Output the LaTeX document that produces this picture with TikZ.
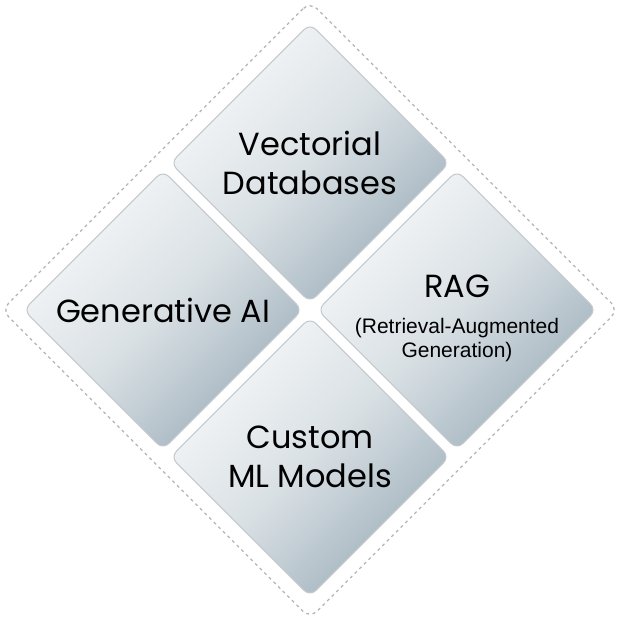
\documentclass[tikz,border=0pt]{standalone}
\usepackage{fontspec}
\newfontfamily\popfont{Poppins}
\newfontfamily\subfont{Liberation Sans}
\definecolor{tilelight}{HTML}{F6F8F9}
\definecolor{tilemid}{HTML}{D9E0E4}
\definecolor{tiledark}{HTML}{9FB0BC}
\definecolor{tileedge}{HTML}{C4C9CD}
\definecolor{frameedge}{HTML}{B4B4B4}

\begin{document}
\begin{tikzpicture}[
    x=1pt, y=1pt,
    tile/.style = {rectangle, rotate=45, rounded corners=8pt, draw=tileedge, line width=1pt,
                   top color=tilelight, bottom color=tiledark, middle color=tilemid, shading angle=45,
                   minimum size=197pt, inner sep=0pt, outer sep=0pt},
    frame/.style = {rectangle, rotate=45, rounded corners=10pt, draw=frameedge, line width=1.3pt,
                    dash pattern=on 3pt off 3.5pt, minimum size=436pt, inner sep=0pt},
    title/.style = {align=center, font=\popfont\fontsize{32}{39}\selectfont},
    subtitle/.style = {align=center, font=\subfont\fontsize{21}{24}\selectfont}
]
\useasboundingbox (-310,-310) rectangle (310,310);

% --- Outer dashed frame ---
\node[frame] (outer) at (0,0) {};

% --- The four tiles ---
\node[tile] (vdb) at (0,147) {};
\node[tile] (gen) at (-147,0) {};
\node[tile] (rag) at (147,0) {};
\node[tile] (cml) at (0,-147) {};

% --- Tile texts ---
\node[title] (vdbt) at (vdb) {Vectorial\\Databases};
\node[title] (gent) at (gen) {Generative AI};
\node[title, anchor=base] (ragt) at ([yshift=12pt]rag.center) {RAG};
\node[subtitle] (ragst) at ([yshift=-30pt]rag.center) {(Retrieval-Augmented\\Generation)};
\node[title] (cmlt) at (cml) {Custom\\ML Models};

\end{tikzpicture}
\end{document}
